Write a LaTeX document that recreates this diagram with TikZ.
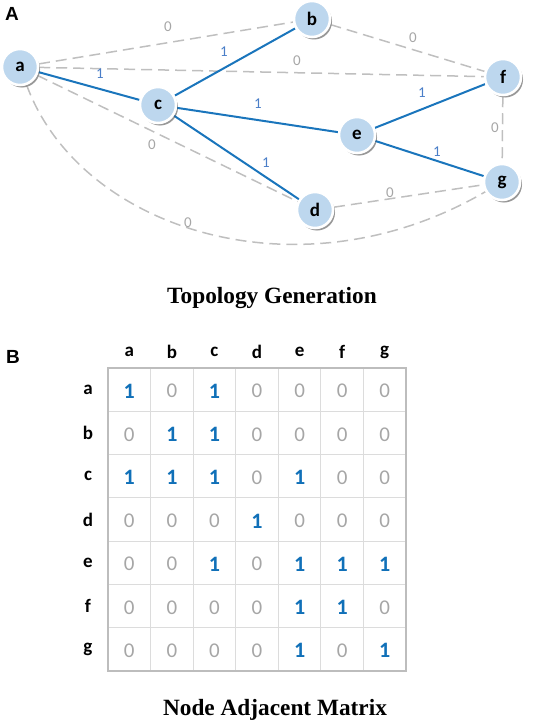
\documentclass[tikz,border=0pt]{standalone}
\usepackage{fontspec}
\setmainfont{Liberation Serif}
\newfontfamily\carlitofont{Carlito}
\newfontfamily\arialfont{Liberation Sans}
\usetikzlibrary{shadows}
\definecolor{nodefill}{HTML}{BDD7EE}
\definecolor{edgeblue}{HTML}{1A75BC}
\definecolor{lblblue}{HTML}{4A7EC8}
\definecolor{edgegray}{HTML}{BFBFBF}
\definecolor{zerogray}{HTML}{A6A6A6}
\definecolor{matblue}{HTML}{1070B8}
\definecolor{gridin}{HTML}{DCDCDC}
\definecolor{gridout}{HTML}{BDBDBD}
\tikzset{
  vert/.style={circle, minimum size=36pt, inner sep=0pt, fill=nodefill, draw=white, line width=2.5pt,
    font=\carlitofont\bfseries\fontsize{19}{19}\selectfont,
    drop shadow={shadow xshift=2pt, shadow yshift=-2.5pt, opacity=0.35, fill=black!70}},
  one/.style={draw=edgeblue, line width=2pt},
  zero/.style={draw=edgegray, line width=1.5pt, dash pattern=on 11pt off 6pt},
  lone/.style={text=lblblue, font=\carlitofont\fontsize{15}{15}\selectfont, inner sep=1pt},
  lzero/.style={text=zerogray, font=\carlitofont\fontsize{15}{15}\selectfont, inner sep=1pt},
  panel/.style={font=\arialfont\bfseries\fontsize{19}{19}\selectfont},
  caption/.style={font=\bfseries\fontsize{23.3}{23.3}\selectfont},
  hdr/.style={font=\carlitofont\bfseries\fontsize{19}{19}\selectfont},
  mone/.style={text=matblue, font=\carlitofont\bfseries\fontsize{22}{22}\selectfont},
  mzero/.style={text=zerogray, font=\carlitofont\fontsize{21}{21}\selectfont}
}
\begin{document}
\begin{tikzpicture}[x=1pt, y=-1pt]
\useasboundingbox (0,0) rectangle (533,725);
\node[panel] (A) at (12,14) {A};
\node[panel] (B) at (13,357) {B};
% vertices
\node[vert] (a) at (20,67) {a};
\node[vert] (b) at (312,19) {b};
\node[vert] (c) at (158,105) {c};
\node[vert] (d) at (315,210) {d};
\node[vert] (e) at (357,135) {e};
\node[vert] (f) at (503,77) {f};
\node[vert] (g) at (502,182) {g};
% edges
\draw[zero] (a) -- (b);
\draw[zero] (a) -- (f);
\draw[zero] (b) -- (f);
\draw[zero] (a) -- (d);
\draw[zero] (a) .. controls (80,230) and (300,300) .. (g);
\draw[zero] (d) -- (g);
\draw[zero] (f) -- (g);
\draw[one] (a) -- (c);
\draw[one] (c) -- (b);
\draw[one] (c) -- (e);
\draw[one] (c) -- (d);
\draw[one] (e) -- (f);
\draw[one] (e) -- (g);
% redraw vertices on top
\node[vert] at (a) {a};
\node[vert] at (b) {b};
\node[vert] at (c) {c};
\node[vert] at (d) {d};
\node[vert] at (e) {e};
\node[vert] at (f) {f};
\node[vert] at (g) {g};
% edge labels
\node[lone] (l1) at (100,74) {1};
\node[lone] (l2) at (224,52) {1};
\node[lone] (l3) at (258,104) {1};
\node[lone] (l4) at (266,163) {1};
\node[lone] (l5) at (422,93) {1};
\node[lone] (l6) at (437,152) {1};
\node[lzero] (z1) at (168,27) {0};
\node[lzero] (z2) at (297,61) {0};
\node[lzero] (z3) at (413,38) {0};
\node[lzero] (z4) at (152,145) {0};
\node[lzero] (z5) at (188,223) {0};
\node[lzero] (z6) at (390,193) {0};
\node[lzero] (z7) at (495,128) {0};
\node[caption] (t1) at (272,298) {Topology Generation};
% matrix
\foreach \i in {1,...,6} {
  \draw[gridin, line width=0.8pt] ({108+\i*42.57},368) -- ({108+\i*42.57},671);
  \draw[gridin, line width=0.8pt] (108,{368+\i*43.29}) -- (406,{368+\i*43.29});
}
\draw[gridout, line width=1.6pt] (108,368) rectangle (406,671);
\foreach \n [count=\k] in {a,b,c,d,e,f,g} {
  \node[hdr] (col\n) at ({129.3+(\k-1)*42.57},352) {\n};
  \node[hdr] (row\n) at (88,{389.6+(\k-1)*43.29}) {\n};
}
\foreach \r [count=\i] in {{1,0,1,0,0,0,0},{0,1,1,0,0,0,0},{1,1,1,0,1,0,0},{0,0,0,1,0,0,0},{0,0,1,0,1,1,1},{0,0,0,0,1,1,0},{0,0,0,0,1,0,1}} {
  \foreach \v [count=\j] in \r {
    \ifnum\v=1
      \node[mone] (m\i\j) at ({129.3+(\j-1)*42.57},{391+(\i-1)*43.29}) {1};
    \else
      \node[mzero] (m\i\j) at ({129.3+(\j-1)*42.57},{391+(\i-1)*43.29}) {0};
    \fi
  }
}
\node[caption] (t2) at (275,710) {Node Adjacent Matrix};
\end{tikzpicture}
\end{document}
